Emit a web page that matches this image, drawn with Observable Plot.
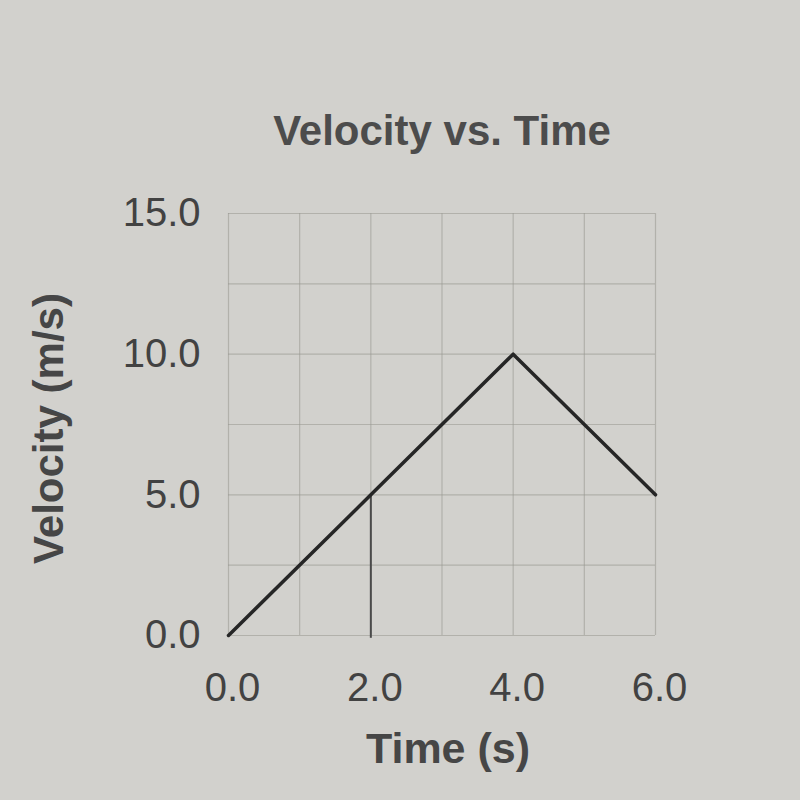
<!DOCTYPE html>
<html>
<head>
<meta charset="utf-8">
<script src="https://cdn.jsdelivr.net/npm/d3@7"></script>
<script src="https://cdn.jsdelivr.net/npm/@observablehq/plot@0.6"></script>
<style>
  html, body { margin: 0; padding: 0; background: #d2d1cd; }
  #chart { width: 800px; height: 800px; }
</style>
</head>
<body>
<div id="chart"></div>
<script>
const title = "Velocity vs. Time";
const xLabel = "Time (s)";
const yLabel = "Velocity (m/s)";
const times = [0, 2, 4, 6];
const velocities = [0, 5, 10, 5];
const xTicks = [0, 2, 4, 6];
const yTicks = [0, 5, 10, 15];
const xGrid = [0, 1, 2, 3, 4, 5, 6];
const yGrid = [0, 2.5, 5, 7.5, 10, 12.5, 15];
// pencil mark drawn on the printed chart
const markX = [2];
const markY1 = [-0.1];
const markY2 = [5];

const data = times.map((t, i) => ({t, v: velocities[i]}));
const marks = markX.map((x, i) => ({x, y1: markY1[i], y2: markY2[i]}));

const chart = Plot.plot({
  width: 800,
  height: 800,
  marginLeft: 228,
  marginRight: 145,
  marginTop: 213,
  marginBottom: 165,
  style: {background: "#d2d1cd", fontFamily: "Liberation Sans, Arial, sans-serif", color: "#3b3b3b", overflow: "visible"},
  x: {domain: [0, 6]},
  y: {domain: [0, 15]},
  marks: [
    Plot.gridX(xGrid, {stroke: "#98988f", strokeOpacity: 0.55, strokeWidth: 1.2}),
    Plot.gridY(yGrid, {stroke: "#98988f", strokeOpacity: 0.55, strokeWidth: 1.2}),
    Plot.axisX(xTicks, {tickSize: 0, tickPadding: 37, dx: 4, tickFormat: d3.format(".1f"), fontSize: 40, fill: "#424242", label: null}),
    Plot.axisY(yTicks, {tickSize: 0, tickPadding: 28, tickFormat: d3.format(".1f"), fontSize: 40, fill: "#424242", label: null}),
    Plot.ruleX(marks, {x: "x", y1: "y1", y2: "y2", stroke: "#4a4a4a", strokeWidth: 2}),
    Plot.line(data, {x: "t", y: "v", stroke: "#262626", strokeWidth: 3.5}),
    Plot.text([title], {frameAnchor: "top", lineAnchor: "middle", dy: -82, fontSize: 42, fontWeight: "bold", fill: "#4c4c4c"}),
    Plot.text([xLabel], {frameAnchor: "bottom", lineAnchor: "middle", dy: 114, dx: 6, fontSize: 43, fontWeight: "bold", fill: "#464646"}),
    Plot.text([yLabel], {frameAnchor: "left", textAnchor: "middle", lineAnchor: "middle", dx: -179, dy: 4, rotate: -90, fontSize: 42, fontWeight: "bold", fill: "#464646"})
  ]
});
document.getElementById("chart").appendChild(chart);
</script>
</body>
</html>
